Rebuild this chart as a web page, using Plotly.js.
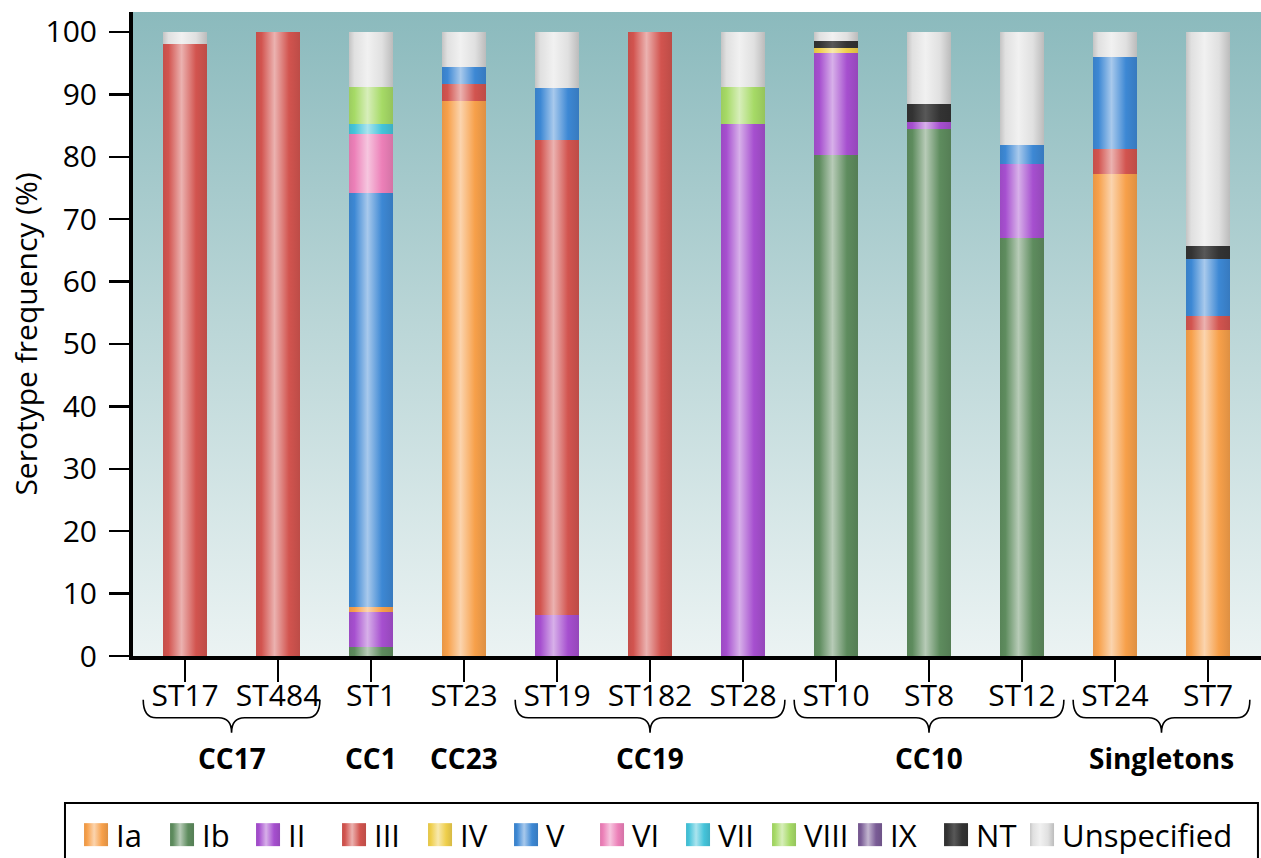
<!DOCTYPE html>
<html>
<head>
<meta charset="utf-8">
<script src="https://cdn.plot.ly/plotly-3.0.1.min.js"></script>
<style>html,body{margin:0;padding:0;background:#fff;}#chart{width:1261px;height:858px;}</style>
</head>
<body>
<div id="chart"></div>
<script>
// ---- data ----
var categories = ["ST17","ST484","ST1","ST23","ST19","ST182","ST28","ST10","ST8","ST12","ST24","ST7"];
var serotypeIa    = [0,0,0.9,88.9,0,0,0,0,0,0,77.2,52.2];
var serotypeIb    = [0,0,1.4,0,0,0,0,80.3,84.4,67.0,0,0];
var serotypeII    = [0,0,5.6,0,6.6,0,85.3,16.4,1.1,11.8,0,0];
var serotypeIII   = [98,100,0,2.7,76.1,100,0,0,0,0,4.1,2.3];
var serotypeIV    = [0,0,0,0,0,0,0,0.8,0,0,0,0];
var serotypeV     = [0,0,66.3,2.8,8.3,0,0,0,0,3.1,14.7,9.1];
var serotypeVI    = [0,0,9.4,0,0,0,0,0,0,0,0,0];
var serotypeVII   = [0,0,1.7,0,0,0,0,0,0,0,0,0];
var serotypeVIII  = [0,0,5.9,0,0,0,5.9,0,0,0,0,0];
var serotypeIX    = [0,0,0,0,0,0,0,0,0,0,0,0];
var serotypeNT    = [0,0,0,0,0,0,0,1.1,3.0,0,0,2.1];
var serotypeUnspecified = [2,0,8.8,5.6,9.0,0,8.8,1.4,11.5,18.1,4.0,34.3];
var yTicks = [0,10,20,30,40,50,60,70,80,90,100];
var groupNames = ["CC17","CC1","CC23","CC19","CC10","Singletons"];
var groupStart = [0,2,3,4,7,10];
var groupEnd   = [1,2,3,6,9,11];

// ---- styling ----
var FONT = "Open Sans, Noto Sans, DejaVu Sans, sans-serif";
var xIdx = categories.map(function(_, i){ return i; });
// stacking order (bottom to top) with legend rank
var series = [
  {name:"Ib", y:serotypeIb, color:"#5e8c5e", rank:2},
  {name:"II", y:serotypeII, color:"#a64fcf", rank:3},
  {name:"Ia", y:serotypeIa, color:"#f7a04a", rank:1},
  {name:"III", y:serotypeIII, color:"#d2544f", rank:4},
  {name:"IV", y:serotypeIV, color:"#efcf4c", rank:5},
  {name:"V", y:serotypeV, color:"#3d88d4", rank:6},
  {name:"VI", y:serotypeVI, color:"#ec80b8", rank:7},
  {name:"VII", y:serotypeVII, color:"#45c4da", rank:8},
  {name:"VIII", y:serotypeVIII, color:"#a6da66", rank:9},
  {name:"IX", y:serotypeIX, color:"#7a5c96", rank:10},
  {name:"NT", y:serotypeNT, color:"#333333", rank:11},
  {name:"Unspecified", y:serotypeUnspecified, color:"#e0e0e0", rank:12}
];

var traces = series.map(function(s){
  return {
    type:"bar", name:s.name, x:xIdx, y:s.y, width:0.47,
    marker:{color:s.color, line:{width:0}},
    legendrank:s.rank, hoverinfo:"skip"
  };
});

// braces and group labels
var shapes = [], annotations = [];
var yTop = -0.068, yMid = -0.096, yTip = -0.119;
for (var g = 0; g < groupNames.length; g++) {
  var a = groupStart[g], b = groupEnd[g];
  var xc = (a + b) / 2;
  if (b > a) {
    var xl = a - 0.45, xr = b + 0.45, d = 0.14;
    var p = "M" + xl + "," + yTop +
      " Q" + xl + "," + yMid + " " + (xl + d) + "," + yMid +
      " L" + (xc - d) + "," + yMid +
      " Q" + xc + "," + yMid + " " + xc + "," + yTip +
      " Q" + xc + "," + yMid + " " + (xc + d) + "," + yMid +
      " L" + (xr - d) + "," + yMid +
      " Q" + xr + "," + yMid + " " + xr + "," + yTop;
    shapes.push({type:"path", xref:"x", yref:"paper", path:p, line:{color:"#000", width:1.6}});
  }
  annotations.push({xref:"x", yref:"paper", x:xc, y:-0.158, text:"<b>" + groupNames[g] + "</b>",
    showarrow:false, yanchor:"middle", xanchor:"center", font:{family:FONT, size:28, color:"#000"}});
}
// legend frame
shapes.push({type:"rect", xref:"paper", yref:"paper", x0:-0.0603, x1:0.9973, y0:-0.2283, y1:-0.34,
  line:{color:"#000", width:2}, fillcolor:"rgba(0,0,0,0)"});

var bgSvg = '<svg xmlns="http://www.w3.org/2000/svg" width="10" height="100" viewBox="0 0 10 100" preserveAspectRatio="none">' +
  '<defs><linearGradient id="b" x1="0" y1="0" x2="0" y2="1"><stop offset="0" stop-color="#8bbabd"/><stop offset="0.5" stop-color="#bcd7d8"/><stop offset="1" stop-color="#ebf3f3"/></linearGradient></defs>' +
  '<rect width="10" height="100" fill="url(#b)"/></svg>';

var LEGEND_SHIFT_Y = 4;

var layout = {
  width:1261, height:858, autosize:false,
  margin:{l:133, r:0, t:12, b:202, pad:0},
  paper_bgcolor:"#ffffff", plot_bgcolor:"#ffffff",
  barmode:"stack", bargap:0.5,
  font:{family:FONT, color:"#000", size:28},
  showlegend:true,
  legend:{orientation:"h", x:-0.0505, y:-0.2305, xanchor:"left", yanchor:"top",
    borderwidth:0, bgcolor:"rgba(0,0,0,0)", entrywidth:41, entrywidthmode:"pixels",
    font:{family:FONT, size:31, color:"#000"}, traceorder:"normal", itemwidth:30},
  xaxis:{range:[-0.56, 11.57], tickmode:"array", tickvals:xIdx, ticktext:categories,
    ticks:"outside", ticklen:22, tickwidth:2, tickcolor:"#000",
    showline:true, linewidth:3.5, linecolor:"#000", showgrid:false, zeroline:false,
    tickfont:{family:FONT, size:30, color:"#000"}, ticklabelstandoff:-12, fixedrange:true},
  yaxis:{range:[0, 103.2], tickmode:"array", tickvals:yTicks,
    ticks:"outside", ticklen:20, tickwidth:2.5, tickcolor:"#000",
    showline:true, linewidth:4, linecolor:"#000", showgrid:false, zeroline:false,
    tickfont:{family:FONT, size:30, color:"#000"}, ticklabelstandoff:6,
    title:{text:"Serotype frequency (%)", font:{family:FONT, size:30, color:"#000"}, standoff:0},
    fixedrange:true},
  shapes:shapes, annotations:annotations,
  images:[{source:"data:image/svg+xml;charset=utf-8," + encodeURIComponent(bgSvg),
    xref:"paper", yref:"paper", x:0, y:1, sizex:1, sizey:1, xanchor:"left", yanchor:"top",
    sizing:"stretch", layer:"below"}]
};

function mix(hex, t, target) {
  var r = parseInt(hex.substr(1,2),16), g = parseInt(hex.substr(3,2),16), b = parseInt(hex.substr(5,2),16);
  var T = target === undefined ? 255 : target;
  return "rgb(" + Math.round(r + (T - r) * t) + "," + Math.round(g + (T - g) * t) + "," + Math.round(b + (T - b) * t) + ")";
}

var gd = document.getElementById("chart");
Plotly.newPlot(gd, traces, layout, {staticPlot:true, displayModeBar:false}).then(function(){
  var NS = "http://www.w3.org/2000/svg";
  var svg = gd.querySelector("svg.main-svg");
  var defs = svg.querySelector("defs") || svg.insertBefore(document.createElementNS(NS, "defs"), svg.firstChild);
  series.forEach(function(s, i){
    var lg = document.createElementNS(NS, "linearGradient");
    lg.setAttribute("id", "cyl" + i);
    lg.setAttribute("x1", "0"); lg.setAttribute("y1", "0"); lg.setAttribute("x2", "1"); lg.setAttribute("y2", "0");
    var dark = s.name === "Unspecified" ? 0.12 : 0.06;
    var stops = [[0, mix(s.color, dark, 0)], [0.12, s.color], [0.42, mix(s.color, s.name === "NT" ? 0.18 : 0.55)], [0.75, s.color], [1, mix(s.color, dark + 0.04, 0)]];
    stops.forEach(function(st){
      var e = document.createElementNS(NS, "stop");
      e.setAttribute("offset", st[0]); e.setAttribute("stop-color", st[1]);
      lg.appendChild(e);
    });
    defs.appendChild(lg);
  });
  gd.querySelectorAll(".barlayer .trace").forEach(function(tg){
    var cd = tg.__data__; if (!cd || !cd[0]) return;
    var idx = cd[0].trace.index;
    tg.querySelectorAll("path").forEach(function(p){ p.style.fill = "url(#cyl" + idx + ")"; });
  });
  var leg = gd.querySelector(".legend");
  if (leg) {
    leg.querySelectorAll("[clip-path]").forEach(function(e){ e.removeAttribute("clip-path"); });
    var tr = leg.getAttribute("transform") || "";
    var m = tr.match(/translate\(\s*([-\d.]+)[ ,]+([-\d.]+)\s*\)/);
    if (m) leg.setAttribute("transform", "translate(" + m[1] + "," + (parseFloat(m[2]) + LEGEND_SHIFT_Y) + ")");
    leg.querySelectorAll(".traces").forEach(function(tg){
      var cd = tg.__data__; if (!cd || !cd[0]) return;
      var idx = cd[0].trace.index;
      tg.querySelectorAll(".legendpoints path").forEach(function(p){
        p.setAttribute("d", "M12,11.5H-12V-11.5H12Z");
        p.style.fill = "url(#cyl" + idx + ")";
      });
    });
  }
});
</script>
</body>
</html>
